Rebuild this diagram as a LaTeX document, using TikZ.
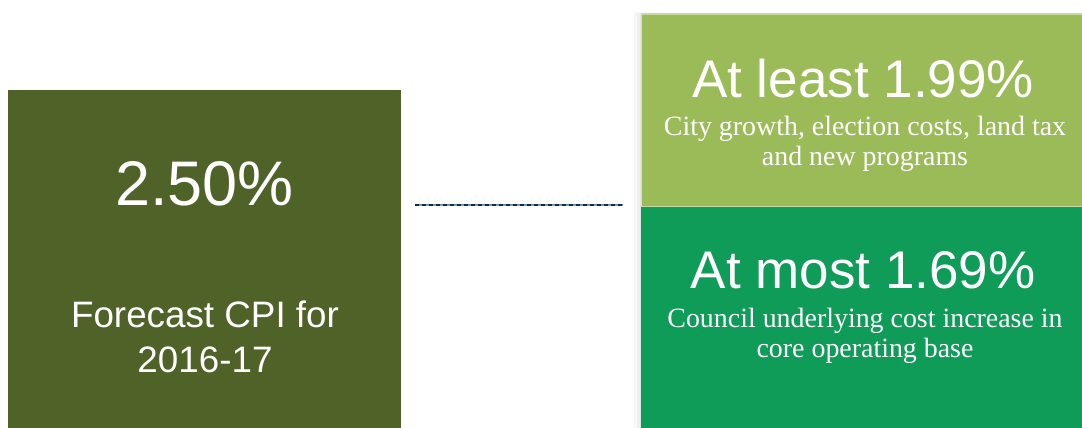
\documentclass[tikz,border=0pt]{standalone}
\usepackage{fontspec}
\setmainfont{Liberation Serif}
\newfontfamily\arialf{Liberation Sans}
\definecolor{olive}{HTML}{4F6228}
\definecolor{lightgreen}{HTML}{9BBB59}
\definecolor{midgreen}{HTML}{0F9B58}
\definecolor{edgegreen}{HTML}{C6D9A2}
\definecolor{lineblue}{HTML}{4A8FCB}
\definecolor{lineorange}{HTML}{D9923A}
\tikzset{
  px/.style={x=1pt,y=-1pt},
  bigtxt/.style={text=white,font=\arialf\fontsize{63}{70}\selectfont,anchor=base,inner sep=0pt},
  headtxt/.style={text=white,font=\arialf\fontsize{53}{60}\selectfont,anchor=base,inner sep=0pt},
  sanstxt/.style={text=white,font=\arialf\fontsize{36.8}{42}\selectfont,anchor=base,inner sep=0pt},
  seriftxt/.style={text=white,font=\fontsize{27.9}{30}\selectfont,anchor=base,inner sep=0pt},
}
\begin{document}
\begin{tikzpicture}[px]
\useasboundingbox (0,0) rectangle (1082,428);
\fill[white] (0,0) rectangle (1082,428);
% left box
\fill[olive] (8,90) rectangle (401,430);
\node[bigtxt] (cpi) at (204.5,205) {2.50\%};
\node[sanstxt] (fc1) at (205,327) {Forecast CPI for};
\node[sanstxt] (fc2) at (205,372) {2016-17};
% right boxes shadow
\fill[gray!6] (634,12) rectangle (641,430);
\fill[gray!12] (637,13) rectangle (641,430);
\fill[gray!22] (639.5,14) rectangle (641,430);
% right boxes
\fill[lightgreen] (641,14) rectangle (1084,206);
\fill[midgreen] (641,207) rectangle (1084,430);
\draw[edgegreen,line width=1.2] (641,14) -- (1084,14);
\draw[edgegreen,line width=1.2] (641,206.5) -- (1084,206.5);
\draw[edgegreen!70!white,line width=0.8] (641.4,14) -- (641.4,206);
\node[headtxt] (least) at (863,97) {At least 1.99\%};
\node[seriftxt] (l1) at (865,135) {City growth, election costs, land tax};
\node[seriftxt] (l2) at (865,165) {and new programs};
\node[headtxt] (most) at (863,288) {At most 1.69\%};
\node[seriftxt] (m1) at (865,327) {Council underlying cost increase in};
\node[seriftxt] (m2) at (865,357) {core operating base};
% connector
\coordinate (ls) at (415,205);
\coordinate (le) at (622.5,205);
\draw[lineblue,line width=2.6] (ls) -- (le);
\draw[lineorange,line width=0.7] (ls) -- (le);
\draw[black!85,line width=1.6,dash pattern=on 4 off 3] (ls) -- (le);
\end{tikzpicture}
\end{document}
